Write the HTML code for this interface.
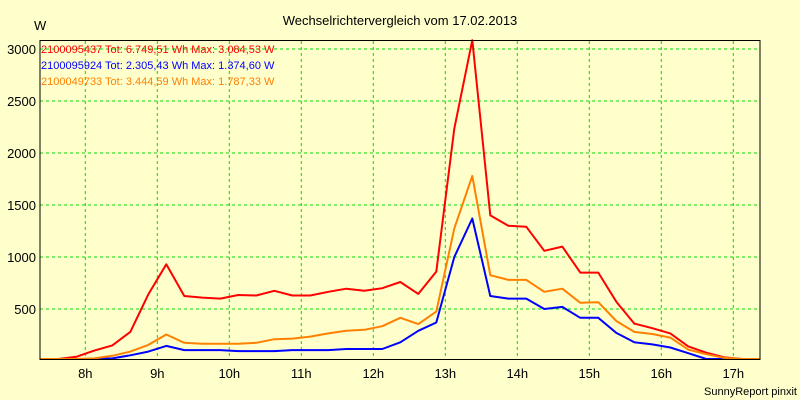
<!DOCTYPE html>
<html><head><meta charset="utf-8"><style>
body{margin:0;background:#FFFFCC;}
svg{display:block;font-family:"Liberation Sans",sans-serif;}
</style></head><body>
<svg id="chart" width="800" height="400" viewBox="0 0 800 400">
<rect x="0" y="0" width="800" height="400" fill="#FFFFCC"/>
<text x="400" y="25" font-size="13" text-anchor="middle" fill="#000">Wechselrichtervergleich vom 17.02.2013</text>
<text x="34" y="30" font-size="13" fill="#000">W</text>
<text x="797" y="395" font-size="11" text-anchor="end" fill="#000">SunnyReport pinxit</text>
<g id="grid"></g><g id="series"></g>
<rect x="40" y="40.5" width="720" height="319" fill="none" stroke="#000" stroke-width="1"/>
<g id="legend" font-size="11">
<text x="41" y="53" fill="#FF0000">2100095437 Tot: 6.749,51 Wh Max: 3.084,53 W</text>
<text x="41" y="69" fill="#0000FF">2100095924 Tot: 2.305,43 Wh Max: 1.374,60 W</text>
<text x="41" y="85" fill="#FF8000">2100049733 Tot: 3.444,59 Wh Max: 1.787,33 W</text>
</g>
</svg>
<script>
const startTime = 7.375;
const stepHours = 0.25;
const yTicks = [500, 1000, 1500, 2000, 2500, 3000];
const xTicks = [8, 9, 10, 11, 12, 13, 14, 15, 16, 17];
const xTickLabels = ["8h","9h","10h","11h","12h","13h","14h","15h","16h","17h"];
const redValues = [0,0,40,100,150,280,640,930,625,610,600,635,630,675,630,630,665,695,675,700,760,645,860,2235,3085,1400,1300,1290,1060,1100,850,850,570,360,315,265,140,80,35,15,0];
const blueValues = [0,0,0,10,25,55,90,145,105,105,105,95,95,95,105,105,105,115,115,115,180,290,370,1000,1370,625,600,600,500,520,415,415,270,180,160,130,75,15,5,0,0];
const orangeValues = [0,0,0,25,50,90,155,255,175,165,165,165,175,210,215,235,265,290,300,335,415,355,475,1275,1780,825,780,780,665,695,560,565,385,280,260,225,110,65,30,10,0];

const NS = "http://www.w3.org/2000/svg";
const xScale = t => 85.3 + (t - 8) * 72;
const yScale = v => 361 - v * 0.104;
const grid = document.getElementById('grid');
const svg = document.getElementById('chart');

yTicks.forEach(v => {
  const l = document.createElementNS(NS, 'line');
  
  
  l.setAttribute('x1', 40); l.setAttribute('x2', 760);
  l.setAttribute('y1', yScale(v)); l.setAttribute('y2', yScale(v));
  l.setAttribute('stroke', '#00DD00'); l.setAttribute('stroke-dasharray', '3,3');
  grid.appendChild(l);
  const t = document.createElementNS(NS, 'text');
  
  
  t.setAttribute('x', 36); t.setAttribute('y', yScale(v) + 5);
  t.setAttribute('text-anchor', 'end'); t.setAttribute('font-size', '13');
  t.textContent = v;
  svg.appendChild(t);
});
xTicks.forEach((h, i) => {
  const x = xScale(h);
  const l = document.createElementNS(NS, 'line');
  
  
  l.setAttribute('x1', x); l.setAttribute('x2', x);
  l.setAttribute('y1', 41); l.setAttribute('y2', 359);
  l.setAttribute('stroke', '#00DD00'); l.setAttribute('stroke-dasharray', '3,3');
  grid.appendChild(l);
  const t = document.createElementNS(NS, 'text');
  
  
  t.setAttribute('x', x); t.setAttribute('y', 378);
  t.setAttribute('text-anchor', 'middle'); t.setAttribute('font-size', '13');
  t.textContent = xTickLabels[i];
  svg.appendChild(t);
});
function drawSeries(vals, color, name) {
  const pts = vals.map((v, i) => xScale(startTime + i * stepHours).toFixed(1) + ',' + Math.min(359, yScale(v)).toFixed(1)).join(' ');
  const p = document.createElementNS(NS, 'polyline');
  
  
  p.setAttribute('points', pts);
  p.setAttribute('fill', 'none'); p.setAttribute('stroke', color);
  p.setAttribute('stroke-width', '2'); p.setAttribute('stroke-linejoin', 'round');
  document.getElementById('series').appendChild(p);
}
drawSeries(redValues, '#FF0000', 'series-2100095437');
drawSeries(blueValues, '#0000FF', 'series-2100095924');
drawSeries(orangeValues, '#FF8000', 'series-2100049733');
</script>
</body></html>
